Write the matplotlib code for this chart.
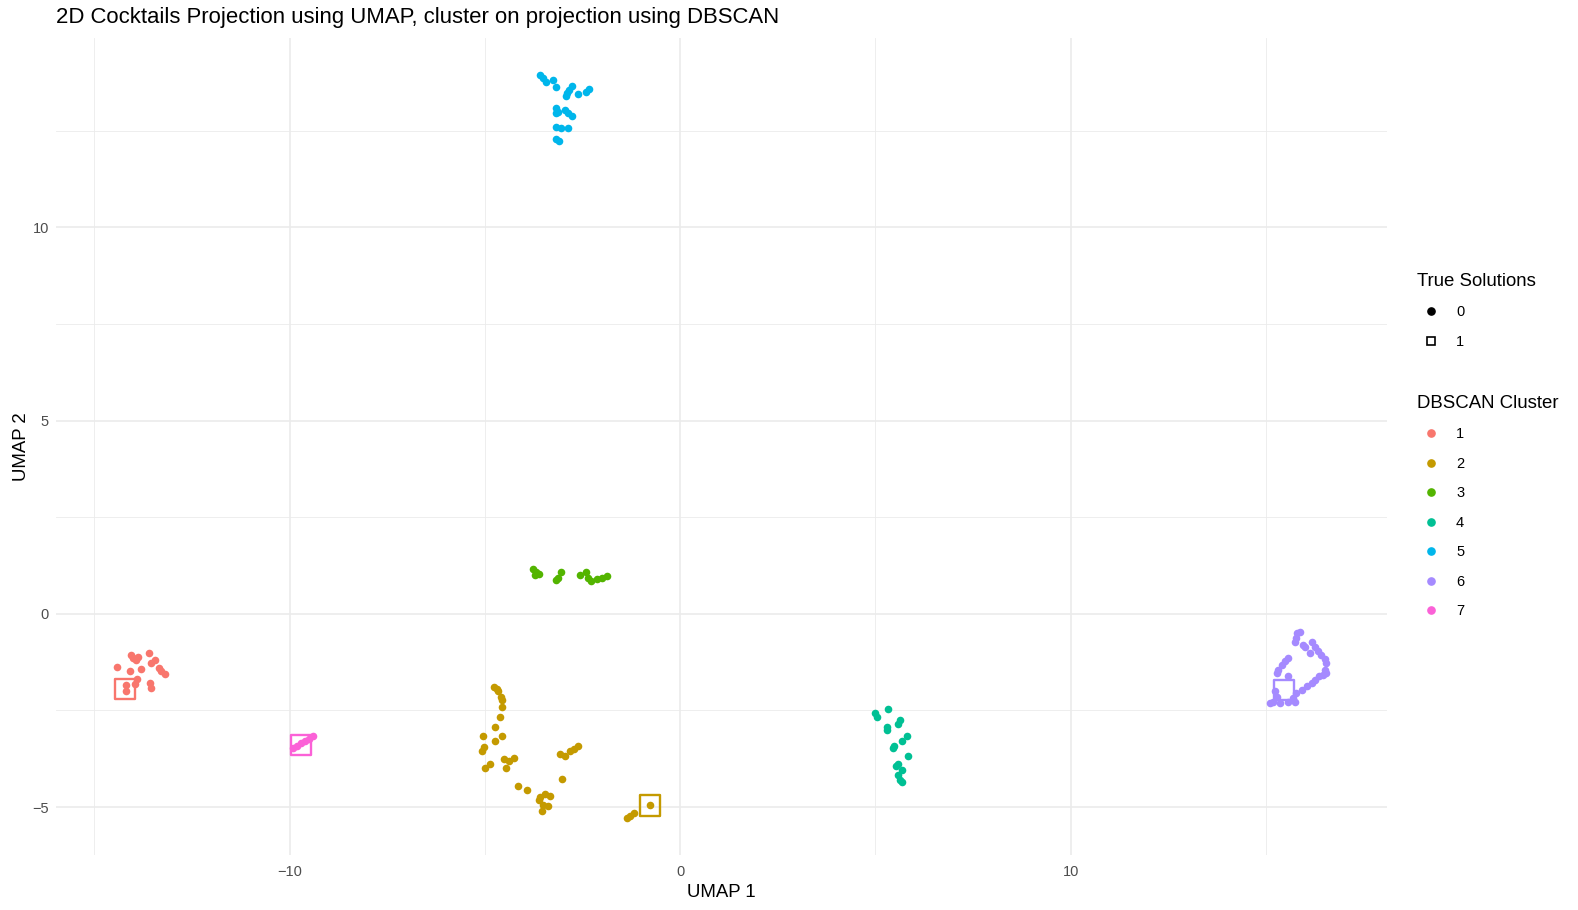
import numpy as np
import matplotlib

matplotlib.use("Agg")
import matplotlib.pyplot as plt
from matplotlib.lines import Line2D

# UMAP coordinates, grouped by DBSCAN cluster
c1_x = [-14.43, -14.05, -14.01, -13.92, -13.88, -13.60, -13.45, -13.54, -14.09, -13.79,
        -13.33, -13.28, -13.19, -13.91, -13.96, -14.19, -14.19, -13.58, -13.54]
c1_y = [-1.38, -1.06, -1.15, -1.19, -1.13, -1.02, -1.19, -1.28, -1.47, -1.42,
        -1.40, -1.49, -1.56, -1.68, -1.82, -1.84, -2.01, -1.79, -1.91]

c2_x = [-4.76, -4.70, -4.66, -4.59, -4.57, -4.57, -4.62, -4.75, -4.57, -4.75, -5.04, -5.02,
        -5.07, -4.51, -4.39, -4.25, -4.45, -4.87, -5.00, -3.08, -2.95, -2.82, -2.71, -2.61,
        -3.02, -4.15, -3.93, -3.59, -3.46, -3.34, -3.62, -3.51, -3.38, -3.53,
        -0.78, -1.37, -1.27, -1.19]
c2_y = [-1.90, -1.95, -2.01, -2.14, -2.22, -2.40, -2.67, -2.92, -3.16, -3.30, -3.16, -3.45,
        -3.56, -3.76, -3.82, -3.73, -3.99, -3.88, -3.99, -3.64, -3.69, -3.56, -3.50, -3.41,
        -4.28, -4.45, -4.55, -4.73, -4.66, -4.71, -4.83, -4.94, -4.98, -5.11,
        -4.96, -5.28, -5.22, -5.16]

c3_x = [-3.76, -3.68, -3.61, -3.72, -3.04, -3.12, -3.17, -2.57, -2.41, -2.36, -2.27, -2.14,
        -2.01, -1.87]
c3_y = [1.16, 1.09, 1.03, 1.01, 1.08, 0.94, 0.88, 1.01, 1.09, 0.92, 0.85, 0.91, 0.94, 0.99]

c4_x = [4.99, 5.03, 5.33, 5.31, 5.29, 5.63, 5.58, 5.80, 5.67, 5.48, 5.45, 5.84, 5.58, 5.54,
        5.69, 5.58, 5.63, 5.67]
c4_y = [-2.57, -2.68, -2.46, -2.92, -3.00, -2.74, -2.85, -3.17, -3.29, -3.41, -3.47, -3.69,
        -3.89, -3.95, -4.04, -4.16, -4.29, -4.34]

c5_x = [-3.59, -3.51, -3.44, -3.25, -3.17, -2.78, -2.84, -2.89, -2.93, -2.61, -2.41, -2.33,
        -3.17, -3.12, -2.95, -2.87, -2.78, -3.17, -3.17, -3.04, -2.88, -3.17, -3.10]
c5_y = [13.94, 13.86, 13.77, 13.81, 13.64, 13.66, 13.55, 13.47, 13.40, 13.44, 13.51, 13.57,
        13.08, 12.99, 13.05, 12.97, 12.88, 12.95, 12.60, 12.58, 12.56, 12.30, 12.23]

c6_x = [15.80, 15.87, 15.77, 15.74, 15.94, 16.00, 16.17, 16.25, 16.34, 16.13, 16.42, 16.51,
        16.55, 16.51, 16.55, 16.47, 16.36, 16.25, 16.17, 16.04, 15.91, 15.78, 15.70, 15.74,
        15.57, 15.49, 15.40, 15.31, 15.27, 15.57, 15.23, 15.27, 15.19, 15.10, 15.36, 15.57]
c6_y = [-0.50, -0.48, -0.63, -0.74, -0.80, -0.85, -0.74, -0.85, -0.95, -1.02, -1.06, -1.17,
        -1.28, -1.45, -1.53, -1.58, -1.62, -1.71, -1.79, -1.88, -1.96, -2.05, -2.18, -2.27,
        -1.15, -1.23, -1.32, -1.45, -1.53, -1.62, -2.01, -2.14, -2.27, -2.31, -2.31, -2.27]

c7_x = [-9.91, -9.82, -9.71, -9.61, -9.51, -9.41]
c7_y = [-3.47, -3.41, -3.35, -3.29, -3.23, -3.17]

# true solutions (shape 1 = open square), one per cluster that has one
true_x = [-14.21, -0.76, 15.46, -9.70]
true_y = [-1.94, -4.96, -1.96, -3.39]
true_cluster = [1, 2, 6, 7]

clusters = ["1", "2", "3", "4", "5", "6", "7"]
colors = ["#F8766D", "#C49A00", "#53B400", "#00C094", "#00B6EB", "#A58AFF", "#FB61D7"]
xs = [c1_x, c2_x, c3_x, c4_x, c5_x, c6_x, c7_x]
ys = [c1_y, c2_y, c3_y, c4_y, c5_y, c6_y, c7_y]

plt.rcParams["font.family"] = ["Liberation Sans", "DejaVu Sans"]

W, H = 1578, 910
fig = plt.figure(figsize=(W / 100, H / 100), dpi=100)
ax = fig.add_axes([56 / W, 1 - 855 / H, (1387 - 56) / W, (855 - 38) / H])

for x, y, col in zip(xs, ys, colors):
    ax.scatter(x, y, s=30, color=col, linewidths=0, zorder=3)
for x, y, k in zip(true_x, true_y, true_cluster):
    ax.scatter([x], [y], s=210, marker="s", facecolors="none",
               edgecolors=colors[k - 1], linewidths=1.7, zorder=4)

# ggplot-like 5% expansion around the data
all_x = np.concatenate([np.array(v) for v in xs] + [np.array(true_x)])
all_y = np.concatenate([np.array(v) for v in ys] + [np.array(true_y)])
px = 0.05 * (all_x.max() - all_x.min())
py = 0.05 * (all_y.max() - all_y.min())
ax.set_xlim(all_x.min() - px, all_x.max() + px)
ax.set_ylim(all_y.min() - py, all_y.max() + py)

ax.set_xticks([-10, 0, 10])
ax.set_yticks([-5, 0, 5, 10])
ax.set_xticks([-15, -5, 5, 15], minor=True)
ax.set_yticks([-2.5, 2.5, 7.5, 12.5], minor=True)
ax.grid(which="major", color="#EBEBEB", linewidth=1.2, zorder=0)
ax.grid(which="minor", color="#EBEBEB", linewidth=0.6, zorder=0)
ax.set_axisbelow(True)
for sp in ax.spines.values():
    sp.set_visible(False)
ax.tick_params(axis="x", which="both", length=0, labelsize=10.5, labelcolor="#4D4D4D", pad=7)
ax.tick_params(axis="y", which="both", length=0, labelsize=10.5, labelcolor="#4D4D4D", pad=5)
ax.set_xlabel("UMAP 1", fontsize=13.4, labelpad=4)
ax.set_ylabel("UMAP 2", fontsize=13.4, labelpad=2)
fig.text(56 / W, 1 - 18 / H, "2D Cocktails Projection using UMAP, cluster on projection using DBSCAN",
         fontsize=15.9, va="center", ha="left")

# legends
shape_handles = [
    Line2D([], [], marker="o", linestyle="none", color="black", markersize=5.2),
    Line2D([], [], marker="s", linestyle="none", markerfacecolor="none",
           markeredgecolor="black", markersize=5.5, markeredgewidth=1.2),
]
leg_kw = dict(loc="upper left", frameon=False, fontsize=10.5, title_fontsize=13.4,
              labelspacing=1.06, handletextpad=0.75, handlelength=1.93,
              alignment="left", borderaxespad=0, borderpad=0)
leg1 = fig.legend(shape_handles, ["0", "1"], title="True Solutions",
                  bbox_to_anchor=(1417 / W, 1 - 273 / H), **leg_kw)
col_handles = [Line2D([], [], marker="o", linestyle="none", color=c, markersize=5.2)
               for c in colors]
leg2 = fig.legend(col_handles, clusters, title="DBSCAN Cluster",
                  bbox_to_anchor=(1417 / W, 1 - 395 / H), **leg_kw)

fig.savefig("out.png", dpi=100, facecolor="white")
